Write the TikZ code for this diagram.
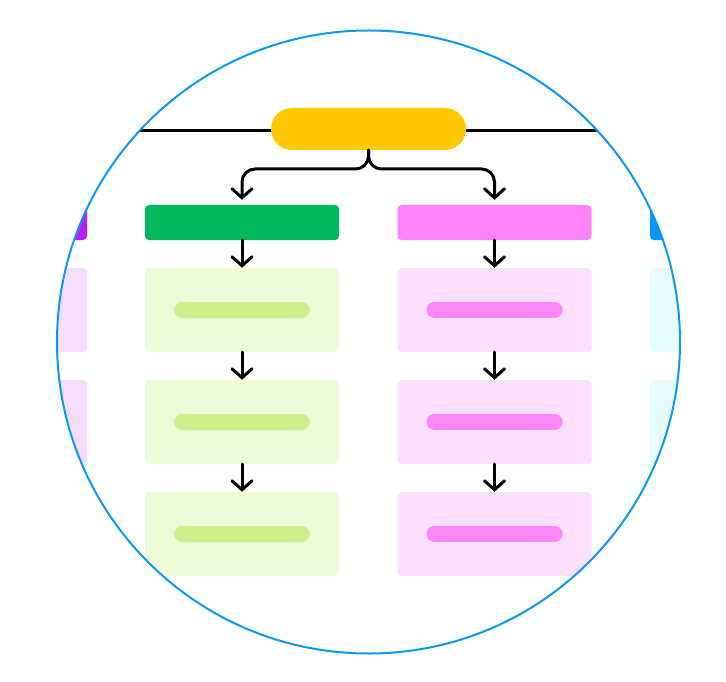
\documentclass[tikz,border=0pt]{standalone}
\usepackage{tikz}
\usepackage{xcolor}
\usetikzlibrary{arrows.meta, positioning}
\definecolor{ringblue}{HTML}{0A98F5}
\definecolor{rootyellow}{HTML}{FFC800}
\definecolor{hdrgreen}{HTML}{00B85C}
\definecolor{hdrpink}{HTML}{FF82F8}
\definecolor{hdrpurple}{HTML}{B81EF5}
\definecolor{hdrblue}{HTML}{0C94FF}
\definecolor{boxgreen}{HTML}{EDFBD8}
\definecolor{bargreen}{HTML}{CDF08D}
\definecolor{boxpink}{HTML}{FFDFFA}
\definecolor{barpink}{HTML}{FF86F7}
\definecolor{boxpurple}{HTML}{F3DEFD}
\definecolor{boxcyan}{HTML}{E6FAFF}

\begin{document}
\begin{tikzpicture}[x=1pt, y=-1pt,
            root/.style={rectangle, rounded corners=21pt, fill=rootyellow, minimum width=195pt, minimum height=42pt, inner sep=0pt},
            hdr/.style={rectangle, rounded corners=4pt, minimum width=194pt, minimum height=35pt, inner sep=0pt},
            card/.style={rectangle, rounded corners=4pt, minimum width=194pt, minimum height=84pt, inner sep=0pt},
            bar/.style={rectangle, rounded corners=8pt, minimum width=136pt, minimum height=16pt, inner sep=0pt},
            link/.style={black, line width=3pt, line cap=round, line join=round, -{Straight Barb[length=9pt, width=20pt, line cap=round]}}]
            \useasboundingbox (0,0) rectangle (726,682);
            \begin{scope}
            \clip (368.5,342) circle (311.5pt);
            % top rail behind the root pill
            \coordinate (railL) at (0,130.5);
            \coordinate (railR) at (726,130.5);
            \draw[black, line width=3pt] (railL) -- (railR);
            \node[root] (top) at (368.5,129) {};
            % headers
            \node[hdr, fill=hdrpurple] (hdrP) at (-10,222.5) {};
            \node[hdr, fill=hdrgreen] (hdrG) at (242,222.5) {};
            \node[hdr, fill=hdrpink] (hdrM) at (494.5,222.5) {};
            \node[hdr, fill=hdrblue] (hdrB) at (747,222.5) {};
            % left edge column
            \node[card, fill=boxpurple] (p1) at (-10,310) {};
            \node[card, fill=boxpurple] (p2) at (-10,422) {};
            % green column
            \node[card, fill=boxgreen] (g1) at (242,310) {};
            \node[card, fill=boxgreen] (g2) at (242,422) {};
            \node[card, fill=boxgreen] (g3) at (242,534) {};
            \node[bar, fill=bargreen] (gbar1) at (g1) {};
            \node[bar, fill=bargreen] (gbar2) at (g2) {};
            \node[bar, fill=bargreen] (gbar3) at (g3) {};
            % pink column
            \node[card, fill=boxpink] (m1) at (494.5,310) {};
            \node[card, fill=boxpink] (m2) at (494.5,422) {};
            \node[card, fill=boxpink] (m3) at (494.5,534) {};
            \node[bar, fill=barpink] (mbar1) at (m1) {};
            \node[bar, fill=barpink] (mbar2) at (m2) {};
            \node[bar, fill=barpink] (mbar3) at (m3) {};
            % right edge column
            \node[card, fill=boxcyan] (b1) at (747,310) {};
            \node[card, fill=boxcyan] (b2) at (747,422) {};
            \end{scope}
            % split from the root
            \draw[link, rounded corners=13pt, shorten >=5pt] (top.south) -- (top.south |- 0,169) -- (hdrG.north |- 0,169) -- (hdrG.north);
            \draw[link, rounded corners=13pt, shorten >=5pt] (top.south) -- (top.south |- 0,169) -- (hdrM.north |- 0,169) -- (hdrM.north);
            % column arrows
            \draw[link] (hdrG) -- (g1);
            \draw[link] (g1) -- (g2);
            \draw[link] (g2) -- (g3);
            \draw[link] (hdrM) -- (m1);
            \draw[link] (m1) -- (m2);
            \draw[link] (m2) -- (m3);
            \draw[ringblue, line width=2pt] (368.5,342) circle (311.5pt);
        \end{tikzpicture}
\end{document}
